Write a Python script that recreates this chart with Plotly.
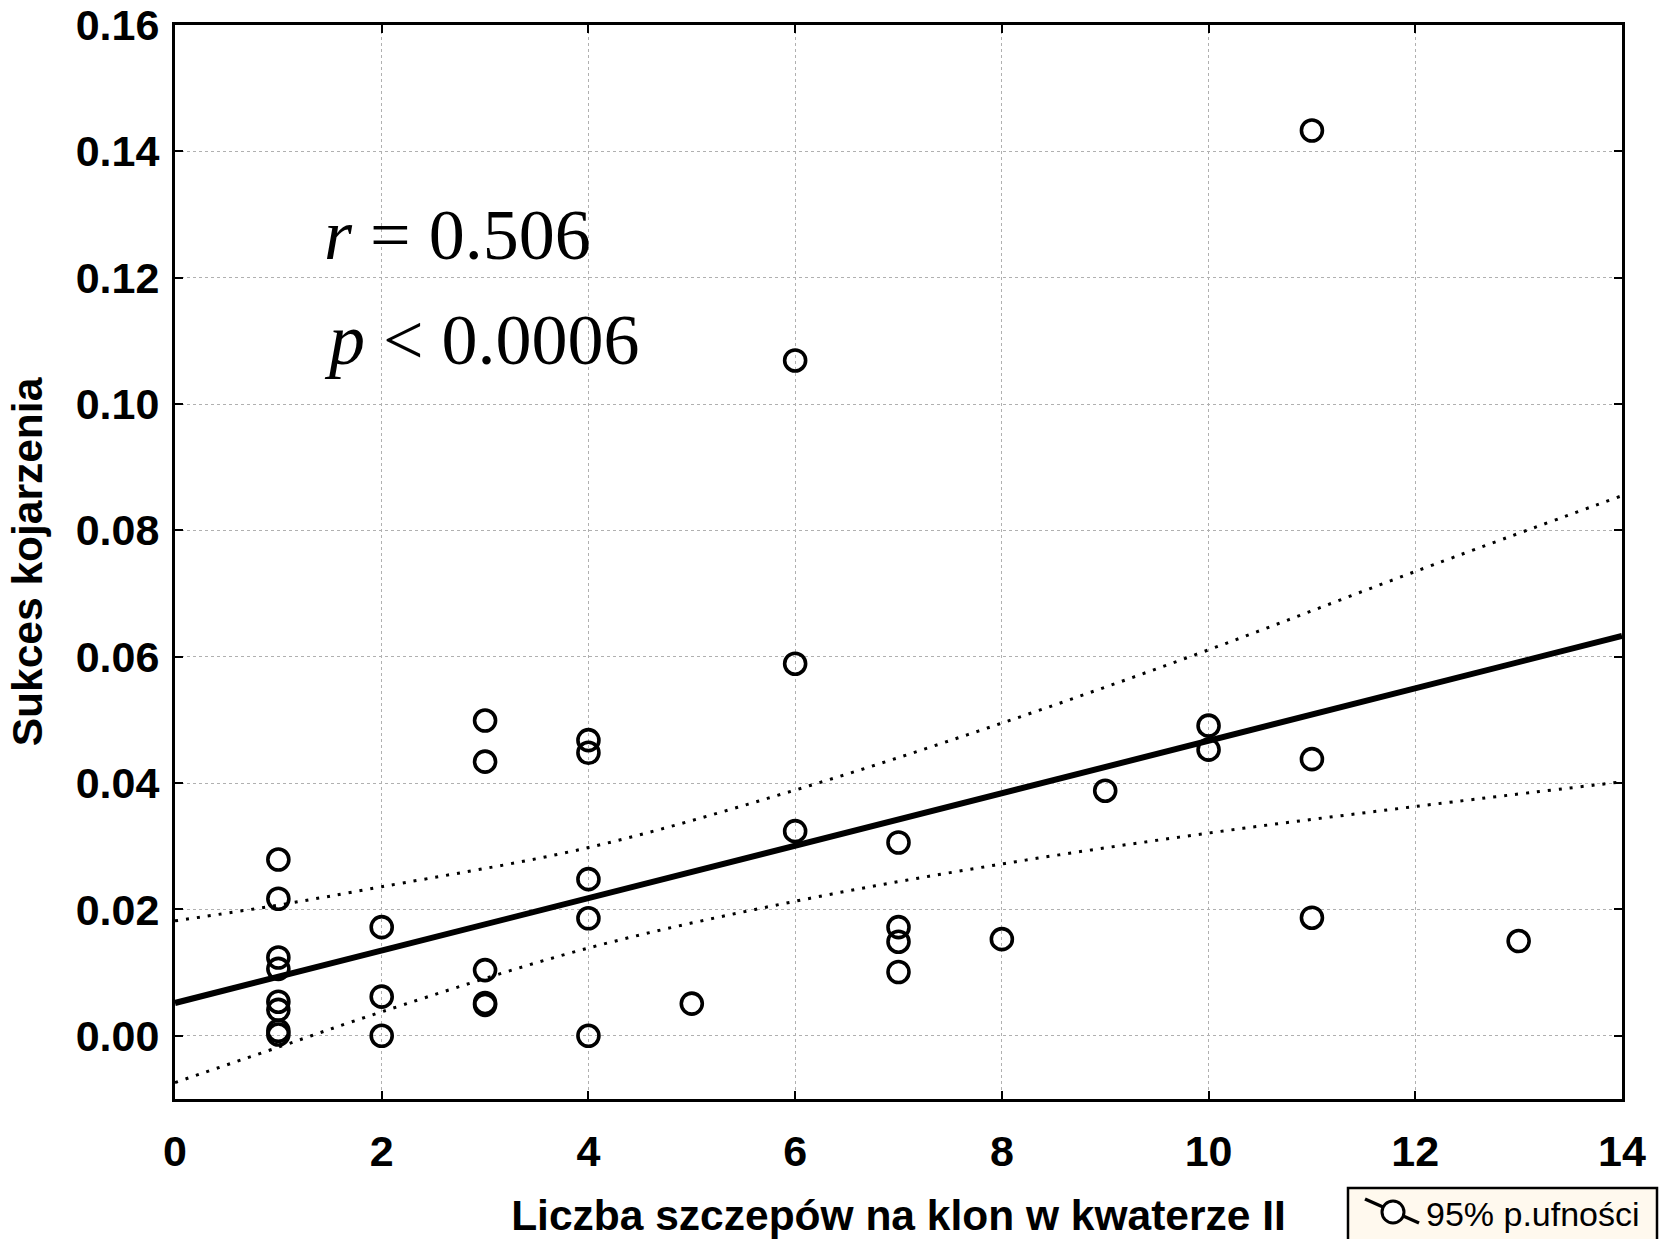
import plotly.graph_objects as go

# ---- data ----
x_vals = [1, 1, 1, 1, 1, 1, 1, 1,
          2, 2, 2,
          3, 3, 3, 3, 3,
          4, 4, 4, 4, 4,
          5,
          6, 6, 6,
          7, 7, 7, 7,
          8,
          9,
          10, 10,
          11, 11, 11,
          13]
y_vals = [0.0279, 0.0217, 0.0124, 0.0106, 0.0054, 0.0041, 0.0008, 0.0002,
          0.0172, 0.0062, 0.0,
          0.0499, 0.0434, 0.0104, 0.0052, 0.0049,
          0.0468, 0.0448, 0.0248, 0.0186, 0.0,
          0.0051,
          0.1069, 0.0589, 0.0324,
          0.0306, 0.0172, 0.0149, 0.0101,
          0.0153,
          0.0388,
          0.0491, 0.0453,
          0.1433, 0.0438, 0.0187,
          0.0150]

fit_x = [0, 14]
fit_y = [0.0052, 0.0633]

ci_x = [0, 1, 2, 4, 6, 8, 10, 12, 14]
ci_upper = [0.0182, 0.0207, 0.0236, 0.0298, 0.0389, 0.0495, 0.0611, 0.0735, 0.0855]
ci_lower = [-0.0074, -0.0018, 0.0038, 0.0139, 0.0213, 0.0272, 0.0321, 0.0363, 0.0402]

x_ticks = [0, 2, 4, 6, 8, 10, 12, 14]
y_ticks = [0.00, 0.02, 0.04, 0.06, 0.08, 0.10, 0.12, 0.14, 0.16]

x_title = "Liczba szczepów na klon w kwaterze II"
y_title = "Sukces kojarzenia"
stat_lines = ["<i>r</i> = 0.506", "<i>p</i> &lt; 0.0006"]
legend_text = "95% p.ufności"

# ---- layout geometry ----
W, H = 1664, 1239
ML, MR, MT, MB = 175, 42, 25, 140
PW, PH = W - ML - MR, H - MT - MB


def px(xp):
    return (xp - ML) / PW


def py(yp):
    return (H - MB - yp) / PH


fig = go.Figure()

fig.add_trace(go.Scatter(
    x=x_vals, y=y_vals, mode="markers",
    marker=dict(symbol="circle-open", size=21, color="black",
                line=dict(color="black", width=3.6)),
    showlegend=False, hoverinfo="x+y"))

fig.add_trace(go.Scatter(
    x=ci_x, y=ci_upper, mode="lines", line_shape="spline",
    line=dict(color="black", width=3, dash="3px,8px"),
    showlegend=False))
fig.add_trace(go.Scatter(
    x=ci_x, y=ci_lower, mode="lines", line_shape="spline",
    line=dict(color="black", width=3, dash="3px,8px"),
    showlegend=False))

fig.add_trace(go.Scatter(
    x=fit_x, y=fit_y, mode="lines",
    line=dict(color="black", width=6),
    showlegend=False))

tick_font = dict(family="Liberation Sans, Arial, sans-serif", size=43, color="black")
title_font = dict(family="Liberation Sans, Arial, sans-serif", size=42.5, color="black")

axis_common = dict(
    showline=True, linecolor="black", linewidth=3, mirror="allticks",
    ticks="inside", ticklen=8, tickwidth=2, tickcolor="black",
    showgrid=True, gridcolor="#b0b0b0", gridwidth=1, griddash="dot",
    zeroline=False, tickfont=tick_font,
)

fig.update_xaxes(range=[0, 14], tickvals=x_ticks,
                 ticktext=[f"<b>{v}</b>" for v in x_ticks],
                 ticklabelstandoff=12,
                 title=dict(text=f"<b>{x_title}</b>", font=title_font, standoff=34),
                 **axis_common)
fig.update_yaxes(range=[-0.01, 0.16], tickvals=y_ticks,
                 ticktext=[f"<b>{v:.2f}</b>" for v in y_ticks],
                 ticklabelstandoff=4,
                 title=dict(text=f"<b>{y_title}</b>", font=title_font, standoff=20),
                 **axis_common)

serif = dict(family="Liberation Serif, Times New Roman, serif", size=72, color="black")
fig.add_annotation(xref="paper", yref="paper", x=px(322), y=py(235),
                   xanchor="left", yanchor="middle", showarrow=False,
                   text=stat_lines[0], font=serif)
fig.add_annotation(xref="paper", yref="paper", x=px(322), y=py(340),
                   xanchor="left", yanchor="middle", showarrow=False,
                   text=stat_lines[1], font=serif)

# legend box (drawn manually to reproduce the diagonal line + circle icon)
fig.add_shape(type="rect", xref="paper", yref="paper",
              x0=px(1348), x1=px(1657), y0=py(1188), y1=py(1242),
              line=dict(color="black", width=2.5), fillcolor="#FFF9EE", layer="above")
fig.add_shape(type="line", xref="paper", yref="paper",
              x0=px(1365), y0=py(1199), x1=px(1419), y1=py(1223),
              line=dict(color="black", width=3.5), layer="above")
fig.add_shape(type="circle", xref="paper", yref="paper",
              x0=px(1382), x1=px(1404), y0=py(1201), y1=py(1223),
              line=dict(color="black", width=3), fillcolor="white", layer="above")
fig.add_annotation(xref="paper", yref="paper", x=px(1424), y=py(1214),
                   xanchor="left", yanchor="middle", showarrow=False,
                   text=legend_text,
                   font=dict(family="Liberation Sans, Arial, sans-serif", size=34, color="black"))

fig.update_layout(
    width=W, height=H,
    margin=dict(l=ML, r=MR, t=MT, b=MB, autoexpand=False),
    plot_bgcolor="white", paper_bgcolor="white",
    showlegend=False,
)

fig.write_html("out.html")
